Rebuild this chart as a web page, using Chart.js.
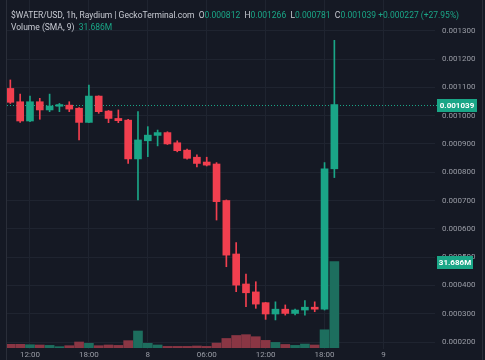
<!DOCTYPE html>
<html>
<head>
<meta charset="utf-8">
<script src="https://cdn.jsdelivr.net/npm/chart.js@4.4.1/dist/chart.umd.min.js"></script>
<style>
    html, body { margin: 0; padding: 0; background: #151924; }
    #wrap { position: relative; width: 485px; height: 360px; }
    #header {
        position: absolute; left: 11px; top: 9px;
        font-family: Roboto, 'Noto Sans', sans-serif; font-size: 8.5px; line-height: 12px;
        color: #c8cbd3; white-space: nowrap;
    }
    #header .v { color: #1aa687; }
</style>
</head>
<body>
<div id="wrap">
    <canvas id="myChart" width="485" height="360"></canvas>
    <div id="header">
        <div>$WATER/USD, 1h, Raydium | GeckoTerminal.com&nbsp; O<span class="v">0.000812</span>&nbsp; H<span class="v">0.001266</span>&nbsp; L<span class="v">0.000781</span>&nbsp; C<span class="v">0.001039 +0.000227 (+27.95%)</span></div>
        <div>Volume (SMA, 9)&nbsp; <span class="v">31.686M</span></div>
    </div>
</div>
<script>
/* candles, 1h, from 10:00 on the 7th to 19:00 on the 8th */
const opens = [0.001096,0.001049,0.000981,0.001049,0.001020,0.001033,0.001037,0.001026,0.000976,0.001069,
    0.001016,0.000990,0.000984,0.000847,0.000911,0.000930,0.000940,0.000904,0.000878,0.000853,
    0.000836,0.000829,0.000700,0.000511,0.000405,0.000377,0.000339,0.000299,0.000316,0.000301,
    0.000313,0.000323,0.000316,0.000812];
const highs = [0.001126,0.001076,0.001069,0.001061,0.001076,0.001043,0.001049,0.001028,0.001108,0.001070,
    0.001018,0.001020,0.000987,0.001014,0.000961,0.000949,0.000943,0.000911,0.000882,0.000861,
    0.000853,0.000834,0.000702,0.000551,0.000440,0.000413,0.000340,0.000342,0.000331,0.000316,
    0.000346,0.000342,0.000834,0.001266];
const lows = [0.001043,0.000976,0.000979,0.000987,0.001014,0.001014,0.001014,0.000914,0.000975,0.001008,
    0.000975,0.000975,0.000831,0.000702,0.000855,0.000893,0.000898,0.000872,0.000846,0.000819,
    0.000822,0.000631,0.000466,0.000378,0.000325,0.000319,0.000280,0.000278,0.000295,0.000296,
    0.000295,0.000307,0.000313,0.000781];
const closes = [0.001047,0.000981,0.001049,0.001020,0.001034,0.001039,0.001023,0.000976,0.001069,0.001014,
    0.000990,0.000982,0.000847,0.000914,0.000931,0.000940,0.000900,0.000876,0.000849,0.000831,
    0.000825,0.000696,0.000507,0.000401,0.000374,0.000334,0.000299,0.000316,0.000301,0.000313,
    0.000323,0.000316,0.000812,0.001039];
// volume in millions
const volumes = [1.25,1.25,1.1,1.0,0.85,0.37,0.74,2.1,1.6,0.74,
    1.0,0.85,2.6,6.15,1.6,1.0,0.48,0.48,0.48,0.63,
    0.48,1.7,3.4,4.5,4.8,4.05,2.7,1.95,1.2,0.85,
    1.35,1.0,6.6,31.686];

const tickSlots = [2, 8, 14, 20, 26, 32, 38];
const tickLabels = ['12:00', '18:00', '8', '06:00', '12:00', '18:00', '9'];
const priceTicks = [0.0002,0.0003,0.0004,0.0005,0.0006,0.0007,0.0008,0.0009,0.0010,0.0011,0.0012,0.0013];

const lastPrice = '0.001039';
const lastVolume = '31.686M';

const UP = '#1aa687';
const DOWN = '#f23f4f';
const UP_VOL = '#1d6e5e';
const DOWN_VOL = '#8a3644';

const isUp = opens.map((o, i) => closes[i] >= o);

const data = {
    datasets: [
        {
            label: 'Volume',
            yAxisID: 'yv',
            data: volumes.map((v, i) => ({x: i, y: v})),
            backgroundColor: isUp.map(u => u ? UP_VOL : DOWN_VOL),
            barThickness: 9,
            grouped: false,
            order: 3,
        },
        {
            label: 'Wick',
            data: highs.map((h, i) => ({x: i, y: [lows[i], h]})),
            backgroundColor: isUp.map(u => u ? UP : DOWN),
            barThickness: 1,
            grouped: false,
            order: 2,
        },
        {
            label: 'Body',
            data: opens.map((o, i) => ({x: i, y: [o, closes[i]]})),
            backgroundColor: isUp.map(u => u ? UP : DOWN),
            barThickness: 7,
            minBarLength: 1,
            grouped: false,
            order: 1,
        }
    ]
};

const options = {
    animation: false,
    responsive: false,
    layout: { padding: { left: 7, right: 0, top: 0, bottom: 0 } },
    scales: {
        x: {
            type: 'linear',
            offset: false,
            min: -0.34,
            max: 43.25,
            afterBuildTicks: (s) => { s.ticks = tickSlots.map(v => ({value: v})); },
            afterFit: (s) => { s.height = 11; s.paddingLeft = 0; s.paddingRight = 0; },
            ticks: {
                color: '#9a9da6',
                font: { size: 8, family: 'Roboto' },
                padding: 1,
                maxRotation: 0,
                autoSkip: false,
                callback: (v) => tickLabels[tickSlots.indexOf(v)],
            },
            grid: {
                color: '#1f2430',
                drawTicks: false,
                offset: false,
            },
            border: { display: false },
        },
        y: {
            position: 'right',
            min: 0.0001753,
            max: 0.0014085,
            afterBuildTicks: (s) => { s.ticks = priceTicks.map(v => ({value: v})); },
            afterFit: (s) => { s.width = 50; s.paddingTop = 0; s.paddingBottom = 0; },
            ticks: {
                color: '#9a9da6',
                font: { size: 8, family: 'Roboto' },
                padding: 7,
                callback: (v) => v.toFixed(6),
            },
            grid: {
                color: '#1f2430',
                drawTicks: false,
            },
            border: { display: false },
        },
        yv: {
            display: false,
            min: -0.48,
            max: 128.1,
        },
    },
    plugins: {
        tooltip: { enabled: false },
        legend: { display: false },
    },
};

// background, pane borders, last price line and badges
const paneExtras = {
    id: 'paneExtras',
    beforeDraw(chart) {
        const c = chart.ctx;
        c.save();
        c.fillStyle = '#151924';
        c.fillRect(0, 0, chart.width, chart.height);
        c.restore();
    },
    beforeDatasetsDraw(chart) {
        const c = chart.ctx;
        const a = chart.chartArea;
        const y = Math.round(chart.scales.y.getPixelForValue(closes[closes.length - 1])) + 0.5;
        c.save();
        c.strokeStyle = UP;
        c.lineWidth = 1;
        c.setLineDash([1, 2]);
        c.beginPath();
        c.moveTo(a.left, y);
        c.lineTo(a.right + 2, y);
        c.stroke();
        c.restore();
    },
    afterDraw(chart) {
        const c = chart.ctx;
        const a = chart.chartArea;
        c.save();
        c.strokeStyle = '#2a2e39';
        c.lineWidth = 1;
        c.beginPath();
        c.moveTo(a.left - 0.5, 0);
        c.lineTo(a.left - 0.5, chart.height);
        c.moveTo(482.5, 0);
        c.lineTo(482.5, chart.height);
        c.stroke();

        const badge = (text, yMid, w) => {
            c.fillStyle = UP;
            c.fillRect(a.right + 2, Math.round(yMid) - 6, w, 13);
            c.fillStyle = '#ffffff';
            c.font = 'bold 8px Roboto';
            c.textAlign = 'center';
            c.textBaseline = 'middle';
            c.fillText(text, a.right + 2 + w / 2, Math.round(yMid) + 0.5);
        };
        badge(lastPrice, chart.scales.y.getPixelForValue(closes[closes.length - 1]), 40);
        badge(lastVolume, chart.scales.yv.getPixelForValue(volumes[volumes.length - 1]), 36);
        c.restore();
    }
};

const ctx = document.getElementById('myChart');
const myChart = new Chart(
    ctx,
        {
            type: 'bar',
            data,
            options,
            plugins: [paneExtras]
        }
);
</script>
</body>
</html>
